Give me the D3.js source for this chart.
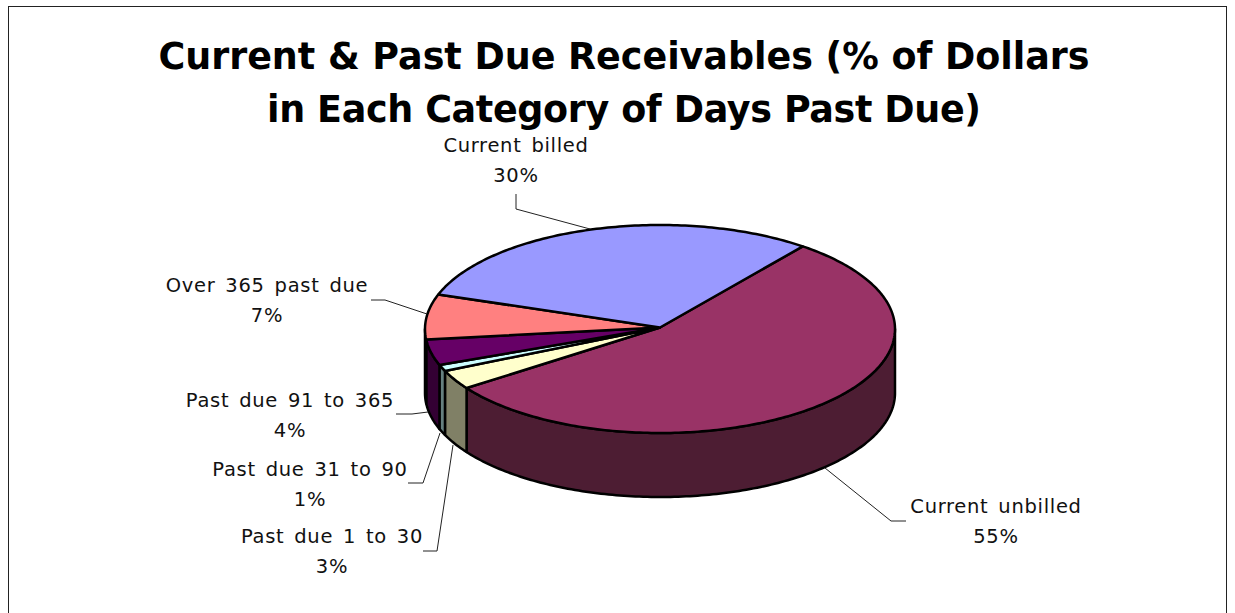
<!DOCTYPE html>
<html>
<head>
<meta charset="utf-8">
<script src="https://cdn.jsdelivr.net/npm/d3@7"></script>
<style>
  html, body { margin: 0; padding: 0; background: #fff; overflow: hidden; }
  text { font-family: "DejaVu Sans", sans-serif; fill: #111; }
</style>
</head>
<body>
<div id="chart"></div>
<script>
// chart values, clockwise from the slice border at the upper right
var categories = ["Current unbilled", "Past due 1 to 30", "Past due 31 to 90", "Past due 91 to 365", "Over 365 past due", "Current billed"];
var percents = [55, 3, 1, 4, 7, 30];
var titleLines = ["Current & Past Due Receivables (% of Dollars", "in Each Category of Days Past Due)"];

var topColors = ["#993366", "#ffffcc", "#ccffff", "#660066", "#ff8080", "#9999ff"];
var sideColors = ["#4d1d33", "#808066", "#668080", "#330033", "#804040", "#4d4d80"];

// label position and leader line for each category
var labelLayout = [
  {x: 996, y: 513, leader: [[825, 468], [891, 521], [906, 521]]},
  {x: 332, y: 543, leader: [[453, 445], [437, 551], [423, 551]]},
  {x: 310, y: 476, leader: [[440, 433], [423, 483], [408, 483]]},
  {x: 290, y: 407, leader: [[428, 412], [412, 414], [396, 414]]},
  {x: 267, y: 292, leader: [[427, 314], [385, 300], [371, 300]]},
  {x: 516, y: 152, leader: [[590, 229], [516, 209], [516, 194]]}
];
var titleWidths = [931, 714];

var width = 1235, height = 613;
var cx = 660, cy = 329, rx = 235, ry = 104, depth = 64;
var apexY = 327.5;
var rotation = 37.4 * Math.PI / 180;

var svg = d3.select("#chart").append("svg")
    .attr("width", width)
    .attr("height", height)
    .style("display", "block");

// outer frame
svg.append("rect")
    .attr("x", 8.5)
    .attr("y", 6.5)
    .attr("width", 1218)
    .attr("height", 620)
    .attr("fill", "#fff")
    .attr("stroke", "#222")
    .attr("stroke-width", 1);

svg.selectAll(".title")
    .data(titleLines)
  .enter().append("text")
    .attr("class", "title")
    .attr("x", 624)
    .attr("y", function(d, i) { return 69 + i * 53; })
    .attr("text-anchor", "middle")
    .attr("textLength", function(d, i) { return titleWidths[i]; })
    .attr("lengthAdjust", "spacing")
    .style("font-size", "36.5px")
    .style("font-weight", "bold")
    .style("fill", "#000")
    .text(function(d) { return d; });

var pie = d3.pie()
    .sort(null)
    .startAngle(rotation)
    .endAngle(rotation + 2 * Math.PI);

var arcs = pie(percents);

var line = d3.line();

// project an angle (clockwise from 12 o'clock) on to the tilted ellipse
function rim(a, drop) {
  return [cx + rx * Math.sin(a), cy - ry * Math.cos(a) + (drop || 0)];
}

function sample(a0, a1) {
  var n = Math.max(2, Math.ceil((a1 - a0) * 60));
  return d3.range(n + 1).map(function(i) { return a0 + (a1 - a0) * i / n; });
}

// the walls only show on the front half, 90 to 270 degrees
var frontStart = Math.PI / 2, frontEnd = 3 * Math.PI / 2;

arcs.forEach(function(d, i) {
  var a0 = Math.max(d.startAngle, frontStart),
      a1 = Math.min(d.endAngle, frontEnd);
  if (a1 <= a0) return;
  var angles = sample(a0, a1);
  var pts = angles.map(function(a) { return rim(a); })
    .concat(angles.slice().reverse().map(function(a) { return rim(a, depth); }));
  svg.append("path")
      .attr("class", "wall")
      .attr("d", line(pts) + "Z")
      .attr("fill", sideColors[i])
      .attr("stroke", "#000")
      .attr("stroke-width", 2.5)
      .attr("stroke-linejoin", "round");
});

svg.selectAll(".slice")
    .data(arcs)
  .enter().append("path")
    .attr("class", "slice")
    .attr("d", function(d) {
      var pts = sample(d.startAngle, d.endAngle).map(function(a) { return rim(a); });
      return line([[cx, apexY]].concat(pts)) + "Z";
    })
    .attr("fill", function(d, i) { return topColors[i]; })
    .attr("stroke", "#000")
    .attr("stroke-width", 2.5)
    .attr("stroke-linejoin", "round");

svg.selectAll(".leader")
    .data(labelLayout)
  .enter().append("path")
    .attr("class", "leader")
    .attr("d", function(d) { return line(d.leader); })
    .attr("fill", "none")
    .attr("stroke", "#222")
    .attr("stroke-width", 1);

var labels = svg.selectAll(".label")
    .data(categories)
  .enter().append("text")
    .attr("class", "label")
    .attr("text-anchor", "middle")
    .style("font-size", "19.5px")
    .style("letter-spacing", "0.7px")
    .style("word-spacing", "3px");

labels.append("tspan")
    .attr("x", function(d, i) { return labelLayout[i].x; })
    .attr("y", function(d, i) { return labelLayout[i].y; })
    .text(function(d) { return d; });

labels.append("tspan")
    .attr("x", function(d, i) { return labelLayout[i].x; })
    .attr("y", function(d, i) { return labelLayout[i].y + 30; })
    .text(function(d, i) { return percents[i] + "%"; });
</script>
</body>
</html>
